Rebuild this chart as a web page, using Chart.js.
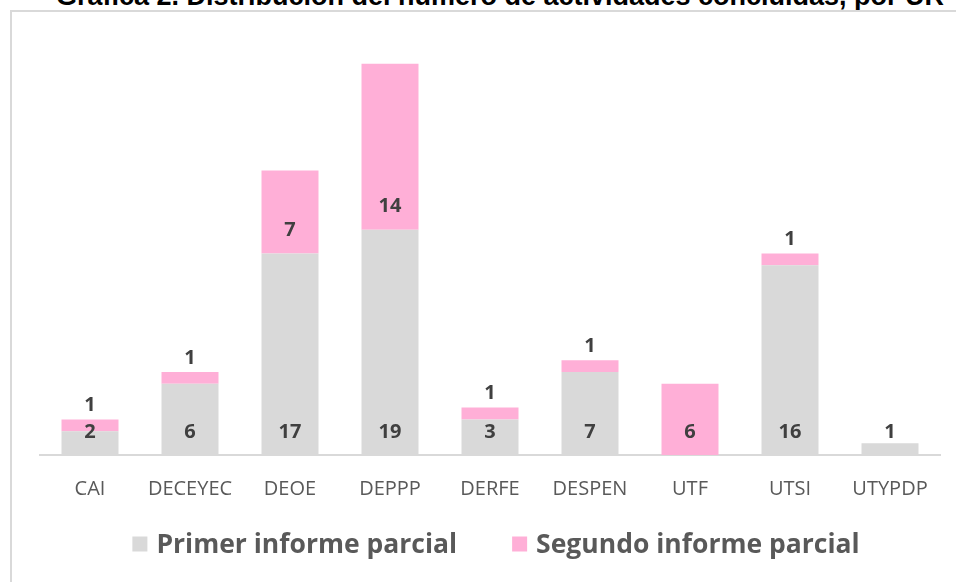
<!DOCTYPE html>
<html>
<head>
<meta charset="utf-8">
<script src="https://cdn.jsdelivr.net/npm/chart.js@4/dist/chart.umd.min.js"></script>
<style>
  body { margin: 0; background: #fff; width: 956px; height: 582px; overflow: hidden; position: relative; }
  #title { position: absolute; top: -19px; left: 0; width: 1000px; text-align: center;
    font: bold 27px "Liberation Sans", Arial, sans-serif; color: #000; white-space: nowrap; }
  #frame { position: absolute; left: 10px; top: 10px; width: 946px; height: 572px;
    border-left: 2px solid #d9d9d9; border-top: 2px solid #d9d9d9; box-sizing: border-box; }
  #wrap { position: absolute; left: 12px; top: 12px; width: 944px; height: 570px; }
</style>
</head>
<body>
<div id="title">Gráfica 2. Distribución del número de actividades concluidas, por UR</div>
<div id="frame"></div>
<div id="wrap"><canvas id="myCanvas"></canvas></div>
<script>
// unidades responsables
let categories = ["CAI", "DECEYEC", "DEOE", "DEPPP", "DERFE", "DESPEN", "UTF", "UTSI", "UTYPDP"];
let primerInforme = [2, 6, 17, 19, 3, 7, 0, 16, 1];
let segundoInforme = [1, 1, 7, 14, 1, 1, 6, 1, 0];
let seriesNames = ["Primer informe parcial", "Segundo informe parcial"];
let seriesColors = ["#d9d9d9", "#ffafd7"];

// labels on the bars, like excel "inside base"
const barLabels = {
  id: "barLabels",
  afterDatasetsDraw(chart) {
    let ctx = chart.ctx;
    ctx.save();
    ctx.font = "bold 20px 'Open Sans', sans-serif";
    ctx.fillStyle = "#404040";
    ctx.textAlign = "center";
    ctx.textBaseline = "middle";
    chart.data.datasets.forEach(function (ds, i) {
      let meta = chart.getDatasetMeta(i);
      meta.data.forEach(function (bar, j) {
        let v = ds.data[j];
        if (!v) return;
        let h = bar.base - bar.y;
        let y = bar.base - 23;
        if (i === 1 && h < 30) y = bar.y - 14;
        ctx.fillText(String(v), bar.x, y);
      });
    });
    ctx.restore();
  }
};

// legend drawn by hand so the spacing looks like the excel one
const bottomLegend = {
  id: "bottomLegend",
  afterDraw(chart) {
    let ctx = chart.ctx;
    ctx.save();
    ctx.font = "bold 26.5px 'Open Sans', sans-serif";
    ctx.textBaseline = "middle";
    let box = 15, gapText = 9, gapItem = 55;
    let widths = seriesNames.map(function (n) { return ctx.measureText(n).width; });
    let total = 0;
    widths.forEach(function (w) { total += box + gapText + w; });
    total += gapItem * (widths.length - 1);
    let x = chart.width / 2 + 12 - total / 2;
    let y = 532;
    for (let i = 0; i < seriesNames.length; i++) {
      ctx.fillStyle = seriesColors[i];
      ctx.fillRect(x, y - box / 2, box, box);
      x += box + gapText;
      ctx.fillStyle = "#595959";
      ctx.fillText(seriesNames[i], x, y + 1);
      x += widths[i] + gapItem;
    }
    ctx.restore();
  }
};

const canvas = document.getElementById("myCanvas");
new Chart(canvas, {
  type: "bar",
  data: {
    labels: categories,
    datasets: [
      { label: seriesNames[0], data: primerInforme, backgroundColor: seriesColors[0], barPercentage: 0.57, categoryPercentage: 1 },
      { label: seriesNames[1], data: segundoInforme, backgroundColor: seriesColors[1], barPercentage: 0.57, categoryPercentage: 1 }
    ]
  },
  options: {
    responsive: true,
    maintainAspectRatio: false,
    animation: false,
    layout: { padding: { left: 28, right: 16, top: 28, bottom: 67 } },
    plugins: {
      tooltip: { enabled: false },
      legend: { display: false }
    },
    scales: {
      x: {
        stacked: true,
        grid: { display: false },
        border: { color: "#d9d9d9", width: 2 },
        ticks: { color: "#595959", padding: 14, font: { family: "'Open Sans', sans-serif", size: 20 } }
      },
      y: { stacked: true, display: false, min: 0, max: 35 }
    }
  },
  plugins: [barLabels, bottomLegend]
});
</script>
</body>
</html>
